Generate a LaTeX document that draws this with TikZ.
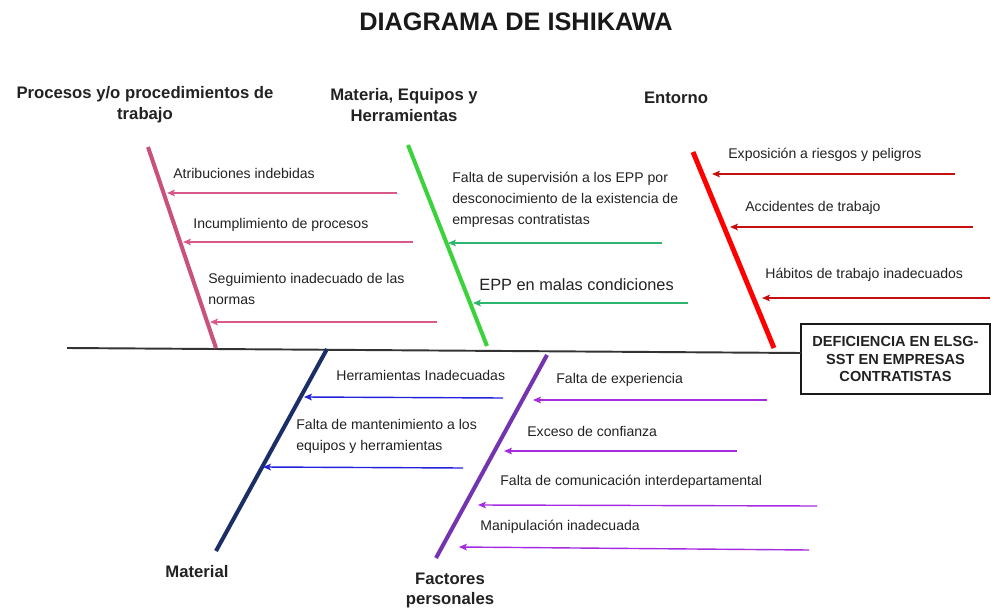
\documentclass[tikz,border=0pt]{standalone}
\usepackage{fontspec}
\setmainfont{Liberation Sans}
\usetikzlibrary{arrows.meta}
\definecolor{pinkB}{HTML}{C9527C}
\definecolor{pinkA}{HTML}{D75A8A}
\definecolor{greenB}{HTML}{3CD23C}
\definecolor{greenA}{HTML}{2DB46E}
\definecolor{redB}{HTML}{FF0000}
\definecolor{redA}{HTML}{C41010}
\definecolor{navyB}{HTML}{1B2F66}
\definecolor{navyA}{HTML}{2222DD}
\definecolor{purpB}{HTML}{7434B0}
\definecolor{purpA}{HTML}{A52BE0}
\definecolor{txt}{HTML}{222222}
\begin{document}
\begin{tikzpicture}[x=0.02cm,y=-0.02cm,
  branch/.style={line width=2.3pt},
  cause/.style={line width=0.8pt,-{Stealth[length=4.5pt,width=3.8pt,inset=1pt]}},
  lbl/.style={font=\fontsize{8}{11.8}\selectfont, text=txt, inner sep=0pt, anchor=west, align=left},
  hdr/.style={font=\fontsize{9.5}{11.8}\selectfont\bfseries, text=txt, inner sep=0pt, align=center},
]
\useasboundingbox (0,0) rectangle (991,608);

% title
\node[font=\fontsize{14.4}{17}\selectfont\bfseries, text=black!90, inner sep=0pt] (title) at (516,22) {DIAGRAMA DE ISHIKAWA};

% headers
\node[hdr] (h1) at (145,105) {Procesos y/o procedimientos de\\trabajo};
\node[hdr] (h2) at (404,105) {Materia, Equipos y\\Herramientas};
\node[hdr] (h3) at (676,98) {Entorno};
\node[hdr] (h4) at (197,572) {Material};
\node[hdr] (h5) at (450,590.5) {Factores\\personales};

% effect box and spine
\node[draw=black!90, line width=0.85pt, minimum width=3.78cm, minimum height=1.4cm, inner sep=0pt,
      font=\fontsize{8.3}{10.2}\selectfont\bfseries, text=txt, align=center] (box) at (895.5,359)
      {DEFICIENCIA EN ELSG-\\SST EN EMPRESAS\\CONTRATISTAS};
\coordinate (spL) at (67,348);
\coordinate (spR) at (801,353);
\draw[black!80, line width=1.1pt] (spL) -- (spR);

% branches
\coordinate (pT) at (148,147); \coordinate (pB) at (216,348);
\coordinate (gT) at (408,145); \coordinate (gB) at (487,346);
\coordinate (rT) at (693,152); \coordinate (rB) at (774,348);
\coordinate (nT) at (327,349); \coordinate (nB) at (216,551);
\coordinate (vT) at (547,355); \coordinate (vB) at (436,558);
\draw[branch, pinkB] (pT) -- (pB);
\draw[branch, greenB] (gT) -- (gB);
\draw[branch, redB, line width=2.8pt] (rT) -- (rB);
\draw[branch, navyB] (nT) -- (nB);
\draw[branch, purpB] (vT) -- (vB);

% pink causes
\coordinate (p1s) at (397,193); \coordinate (p1e) at (167,193);
\coordinate (p2s) at (413,242); \coordinate (p2e) at (183,242);
\coordinate (p3s) at (437,322); \coordinate (p3e) at (210,322);
\draw[cause, pinkA] (p1s) -- (p1e);
\draw[cause, pinkA] (p2s) -- (p2e);
\draw[cause, pinkA] (p3s) -- (p3e);
\node[lbl] (pl1) at (173,173) {Atribuciones indebidas};
\node[lbl] (pl2) at (193,225) {Incumplimiento de procesos};
\node[lbl] (pl3) at (208,289) {Seguimiento inadecuado de las\\normas};

% green causes
\coordinate (g1s) at (662,243); \coordinate (g1e) at (448,243);
\coordinate (g2s) at (688,303); \coordinate (g2e) at (473,303);
\draw[cause, greenA] (g1s) -- (g1e);
\draw[cause, greenA] (g2s) -- (g2e);
\node[lbl] (gl1) at (452,200) {Falta de supervisión a los EPP por\\desconocimiento de la existencia de\\empresas contratistas};
\node[lbl, font=\fontsize{9.3}{11.8}\selectfont] (gl2) at (479,285) {EPP en malas condiciones};

% red causes
\coordinate (r1s) at (955,174); \coordinate (r1e) at (712,174);
\coordinate (r2s) at (973,227); \coordinate (r2e) at (730,227);
\coordinate (r3s) at (990,298); \coordinate (r3e) at (762,298);
\draw[cause, redA] (r1s) -- (r1e);
\draw[cause, redA] (r2s) -- (r2e);
\draw[cause, redA] (r3s) -- (r3e);
\node[lbl] (rl1) at (728,155) {Exposición a riesgos y peligros};
\node[lbl] (rl2) at (745,208) {Accidentes de trabajo};
\node[lbl] (rl3) at (765,275) {Hábitos de trabajo inadecuados};

% navy causes
\coordinate (n1s) at (503,398); \coordinate (n1e) at (304,397);
\coordinate (n2s) at (463,468); \coordinate (n2e) at (263,467);
\draw[cause, navyA] (n1s) -- (n1e);
\draw[cause, navyA] (n2s) -- (n2e);
\node[lbl] (nl1) at (336,375) {Herramientas Inadecuadas};
\node[lbl] (nl2) at (296,436) {Falta de mantenimiento a los\\equipos y herramientas};

% purple causes
\coordinate (v1s) at (767,400); \coordinate (v1e) at (533,400);
\coordinate (v2s) at (737,451); \coordinate (v2e) at (504,451);
\coordinate (v3s) at (817,506); \coordinate (v3e) at (478,505);
\coordinate (v4s) at (809,550); \coordinate (v4e) at (459,547);
\draw[cause, purpA] (v1s) -- (v1e);
\draw[cause, purpA] (v2s) -- (v2e);
\draw[cause, purpA] (v3s) -- (v3e);
\draw[cause, purpA] (v4s) -- (v4e);
\node[lbl] (vl1) at (556,380) {Falta de experiencia};
\node[lbl] (vl2) at (527,431) {Exceso de confianza};
\node[lbl] (vl3) at (500,482) {Falta de comunicación interdepartamental};
\node[lbl] (vl4) at (480,527) {Manipulación inadecuada};
\end{tikzpicture}
\end{document}
